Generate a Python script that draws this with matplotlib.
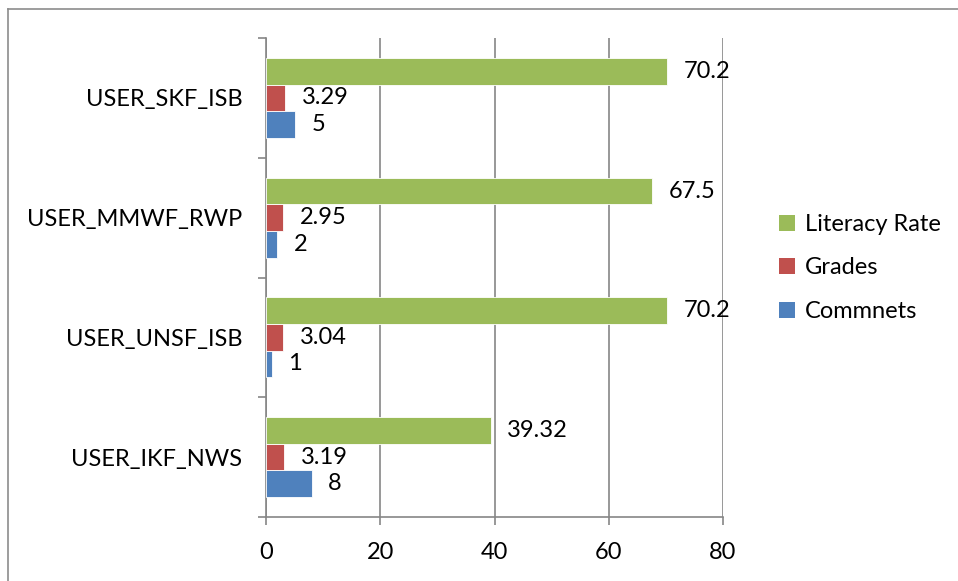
import matplotlib
matplotlib.use("Agg")
import matplotlib.pyplot as plt
import numpy as np
from matplotlib.lines import Line2D
from matplotlib.patches import Patch

plt.rcParams['font.family'] = ['Lato', 'DejaVu Sans']

users = ["USER_IKF_NWS", "USER_UNSF_ISB", "USER_MMWF_RWP", "USER_SKF_ISB"]
comments = [8, 1, 2, 5]
grades = [3.19, 3.04, 2.95, 3.29]
literacy = [39.32, 70.2, 67.5, 70.2]
series_names = ["Commnets", "Grades", "Literacy Rate"]
colors = ["#4F81BD", "#C0504D", "#9BBB59"]
x_ticks = [0, 20, 40, 60, 80]

W, H = 958, 581
fig = plt.figure(figsize=(W / 100, H / 100), dpi=100)

# outer chart frame (top and left edges visible)
fig.add_artist(Line2D([8 / W, 1.0], [1 - 9 / H, 1 - 9 / H], transform=fig.transFigure,
                      color="#8C8C8C", lw=1.2))
fig.add_artist(Line2D([8 / W, 8 / W], [0.0, 1 - 9 / H], transform=fig.transFigure,
                      color="#8C8C8C", lw=1.2))

ax = fig.add_axes([266 / W, 1 - 517 / H, (723 - 266) / W, (517 - 38) / H])

y = np.arange(len(users))
bh = 0.2222
offsets = [-bh, 0.0, bh]
all_series = [comments, grades, literacy]
fs = 17

for vals, off, col in zip(all_series, offsets, colors):
    ax.barh(y + off, vals, height=bh, color=col, edgecolor="white", linewidth=0.6, zorder=3)
    for yy, v in zip(y + off, vals):
        ax.annotate(f"{v:g}", xy=(v, yy), xytext=(12, 0), textcoords="offset points",
                    ha="left", va="center", fontsize=fs, color="black", zorder=4)

ax.set_xlim(0, 80)
ax.set_ylim(-0.5, 3.5)
ax.set_xticks(x_ticks)
ax.set_xticklabels([str(t) for t in x_ticks], fontsize=fs)
ax.xaxis.grid(True, color="#868686", lw=1.2, zorder=0)

ax.set_yticks(np.arange(-0.5, 4.0, 1.0))
ax.set_yticklabels([])
ax.set_yticks(y, minor=True)
ax.set_yticklabels(users, minor=True, fontsize=fs)
ax.tick_params(axis="y", which="minor", length=0, pad=17)
ax.tick_params(axis="y", which="major", length=6, width=1.2, color="#868686", direction="out")
ax.tick_params(axis="x", length=6, width=1.2, color="#868686", direction="out", pad=12)

for side in ["top", "right"]:
    ax.spines[side].set_visible(False)
for side in ["left", "bottom"]:
    ax.spines[side].set_color("#868686")
    ax.spines[side].set_linewidth(1.2)

handles = [Patch(facecolor=colors[i], edgecolor="none", label=series_names[i]) for i in [2, 1, 0]]
fig.legend(handles=handles, loc="center left", bbox_to_anchor=(758 / W, 1 - 268 / H),
           frameon=False, fontsize=fs, handlelength=0.65, handleheight=0.65,
           handletextpad=0.45, labelspacing=0.95)

fig.savefig("out.png", dpi=100)
